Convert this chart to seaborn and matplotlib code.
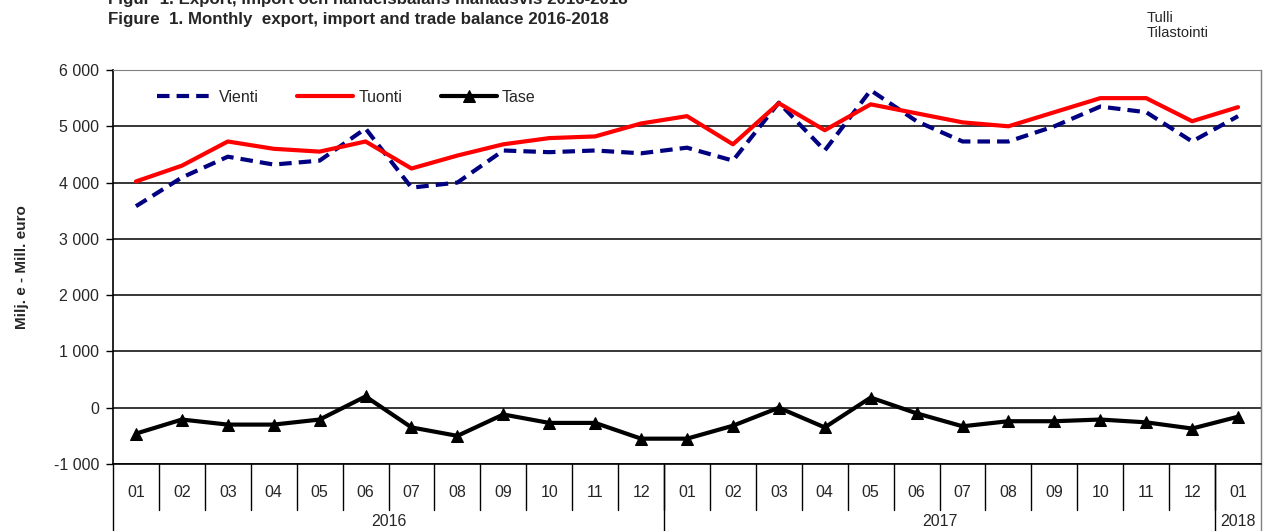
import pandas as pd
import seaborn as sns
import matplotlib.pyplot as plt
from matplotlib.ticker import FuncFormatter, MultipleLocator

# data (million euro)
months = ["01", "02", "03", "04", "05", "06", "07", "08", "09", "10", "11", "12",
          "01", "02", "03", "04", "05", "06", "07", "08", "09", "10", "11", "12",
          "01"]
years = ["2016", "2017", "2018"]
year_counts = [12, 12, 1]
vienti = [3580, 4090, 4460, 4320, 4390, 4960, 3910, 4000, 4570, 4540, 4570, 4520,
          4620, 4390, 5420, 4570, 5640, 5090, 4730, 4730, 5000, 5350, 5250, 4730,
          5180]
tuonti = [4020, 4300, 4730, 4600, 4550, 4730, 4250, 4480, 4680, 4790, 4820, 5050,
          5180, 4680, 5410, 4930, 5390, 5230, 5070, 5000, 5250, 5500, 5500, 5090,
          5340]
tase = [-460, -210, -300, -300, -210, 200, -350, -500, -120, -270, -270, -550,
        -550, -320, 0, -350, 180, -100, -330, -240, -240, -210, -260, -370,
        -160]

df = pd.DataFrame({"idx": range(len(months)), "Vienti": vienti,
                   "Tuonti": tuonti, "Tase": tase})

sns.set_style("white")
plt.rcParams["font.family"] = ["Liberation Sans", "DejaVu Sans"]

fig = plt.figure(figsize=(12.63, 5.31), dpi=100)
ax = fig.add_axes([113 / 1263, 1 - 464 / 531, 1148 / 1263, 394 / 531])

sns.lineplot(data=df, x="idx", y="Vienti", ax=ax, color="#000080", lw=3,
             dashes=False, label="Vienti", zorder=3).lines[-1].set_dashes([3, 1.7])
sns.lineplot(data=df, x="idx", y="Tuonti", ax=ax, color="#FF0000", lw=3,
             label="Tuonti", zorder=4)
sns.lineplot(data=df, x="idx", y="Tase", ax=ax, color="black", lw=3,
             marker="^", markersize=8, markeredgecolor="black", label="Tase", zorder=4)

ax.set_xlim(-0.5, len(months) - 0.5)
ax.set_ylim(-1000, 6000)
ax.yaxis.set_major_locator(MultipleLocator(1000))
ax.yaxis.set_major_formatter(FuncFormatter(lambda v, p: f"{v:,.0f}".replace(",", " ")))
ax.grid(axis="y", color="black", lw=1.1)
ax.set_axisbelow(True)
ax.tick_params(axis="y", labelsize=11.5, left=True, length=5, width=1, color="black", pad=5)

# month labels
ax.set_xticks(range(len(months)))
ax.set_xticklabels(months, fontsize=11.5)
ax.tick_params(axis="x", length=0, pad=15)
ax.set_xlabel("")
ax.set_ylabel("Milj. e - Mill. euro", fontsize=11, fontweight="bold", labelpad=18)

for s in ["top", "right"]:
    ax.spines[s].set_color("#808080")
for s in ["left", "bottom"]:
    ax.spines[s].set_color("black")
    ax.spines[s].set_linewidth(1.2)

# category axis separators and year labels
tr = ax.get_xaxis_transform()
for i in range(1, len(months)):
    ax.plot([i - 0.5, i - 0.5], [0, -0.117], transform=tr, color="black", lw=1, clip_on=False)
start = 0
for yr, n in zip(years, year_counts):
    ax.plot([start - 0.5, start - 0.5], [0, -0.18], transform=tr, color="black", lw=1, clip_on=False)
    ax.text(start - 0.5 + n / 2, -0.145, yr, transform=tr, ha="center", va="center", fontsize=11.5)
    start += n
ax.plot([start - 0.5, start - 0.5], [1, -0.18], transform=tr, color="#808080", lw=1, clip_on=False)

leg = ax.legend(loc="center left", bbox_to_anchor=(0.026, 0.93), ncol=3, frameon=False,
                fontsize=11.5, handlelength=3.5, columnspacing=2.4, handletextpad=0.35)

fig.text(108 / 1263, 1 - 4 / 531, "Figur  1. Export, import och handelsbalans månadsvis 2016-2018",
         fontsize=12.2, fontweight="bold", va="baseline")
fig.text(108 / 1263, 1 - 24 / 531, "Figure  1. Monthly  export, import and trade balance 2016-2018",
         fontsize=12.2, fontweight="bold", va="baseline")
fig.text(1147 / 1263, 1 - 11 / 531, "Tulli\nTilastointi", fontsize=10.5, va="top", linespacing=1.1)

fig.savefig("out.png", dpi=100)
